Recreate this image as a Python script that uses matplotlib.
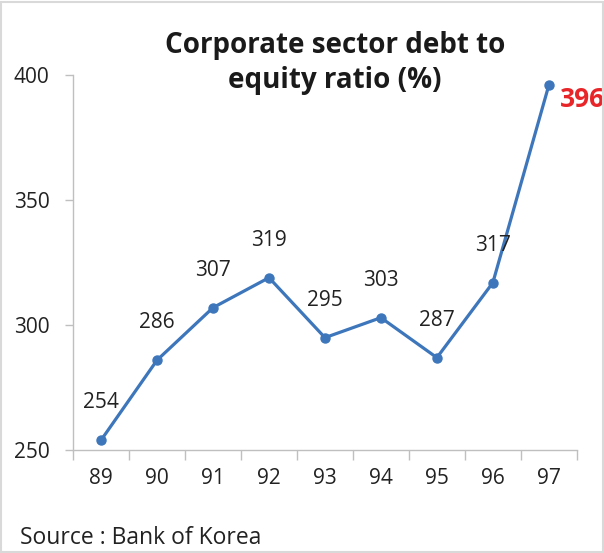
import matplotlib
matplotlib.use("Agg")
import matplotlib.pyplot as plt
from matplotlib.patches import Rectangle

plt.rcParams['font.family'] = ['Open Sans', 'DejaVu Sans']

years = ['89', '90', '91', '92', '93', '94', '95', '96', '97']
ratio = [254, 286, 307, 319, 295, 303, 287, 317, 396]
y_ticks = [250, 300, 350, 400]

fig = plt.figure(figsize=(6.04, 5.53), dpi=100)
ax = fig.add_axes([0.121, 0.186, 0.834, 0.678])

x = list(range(len(years)))
ax.plot(x, ratio, color='#3d76bb', lw=2.3, marker='o', ms=6.5, zorder=3)

# data labels, last one highlighted in red
for i, v in enumerate(ratio[:-1]):
    ax.annotate(str(v), (i, v), xytext=(0, 27), textcoords='offset points',
                ha='center', va='center', fontsize=15, color='#222222')
ax.annotate(str(ratio[-1]), (x[-1], ratio[-1]), xytext=(8, -10),
            textcoords='offset points', ha='left', va='center',
            fontsize=19, fontweight='bold', color='#e8262a')

ax.set_xlim(-0.5, len(years) - 0.5)
ax.set_ylim(250, 400)
ax.set_yticks(y_ticks)
ax.set_xticks([i - 0.5 for i in range(len(years) + 1)], minor=False)
ax.set_xticklabels([''] * (len(years) + 1))
ax.set_xticks(x, minor=True)
ax.set_xticklabels(years, minor=True)
ax.tick_params(axis='x', which='major', length=7, color='#bfbfbf', width=1)
ax.tick_params(axis='x', which='minor', length=0, pad=13, labelsize=15,
               labelcolor='#222222')
ax.tick_params(axis='y', length=6, color='#bfbfbf', width=1, pad=11,
               labelsize=15, labelcolor='#222222')

for s in ['top', 'right']:
    ax.spines[s].set_visible(False)
for s in ['left', 'bottom']:
    ax.spines[s].set_color('#bfbfbf')
    ax.spines[s].set_linewidth(1)

fig.text(0.555, 0.918, 'Corporate sector debt to', ha='center', va='center',
         fontsize=20, fontweight='bold', color='#1a1a1a')
fig.text(0.555, 0.855, 'equity ratio (%)', ha='center', va='center',
         fontsize=20, fontweight='bold', color='#1a1a1a')
fig.text(0.033, 0.028, 'Source : Bank of Korea', ha='left', va='center',
         fontsize=16.5, color='#222222')

fig.patches.append(Rectangle((0.002, 0.002), 0.996, 0.994, transform=fig.transFigure,
                             fill=False, edgecolor='#d9d9d9', lw=1.5))

fig.savefig('out.png', dpi=100)
